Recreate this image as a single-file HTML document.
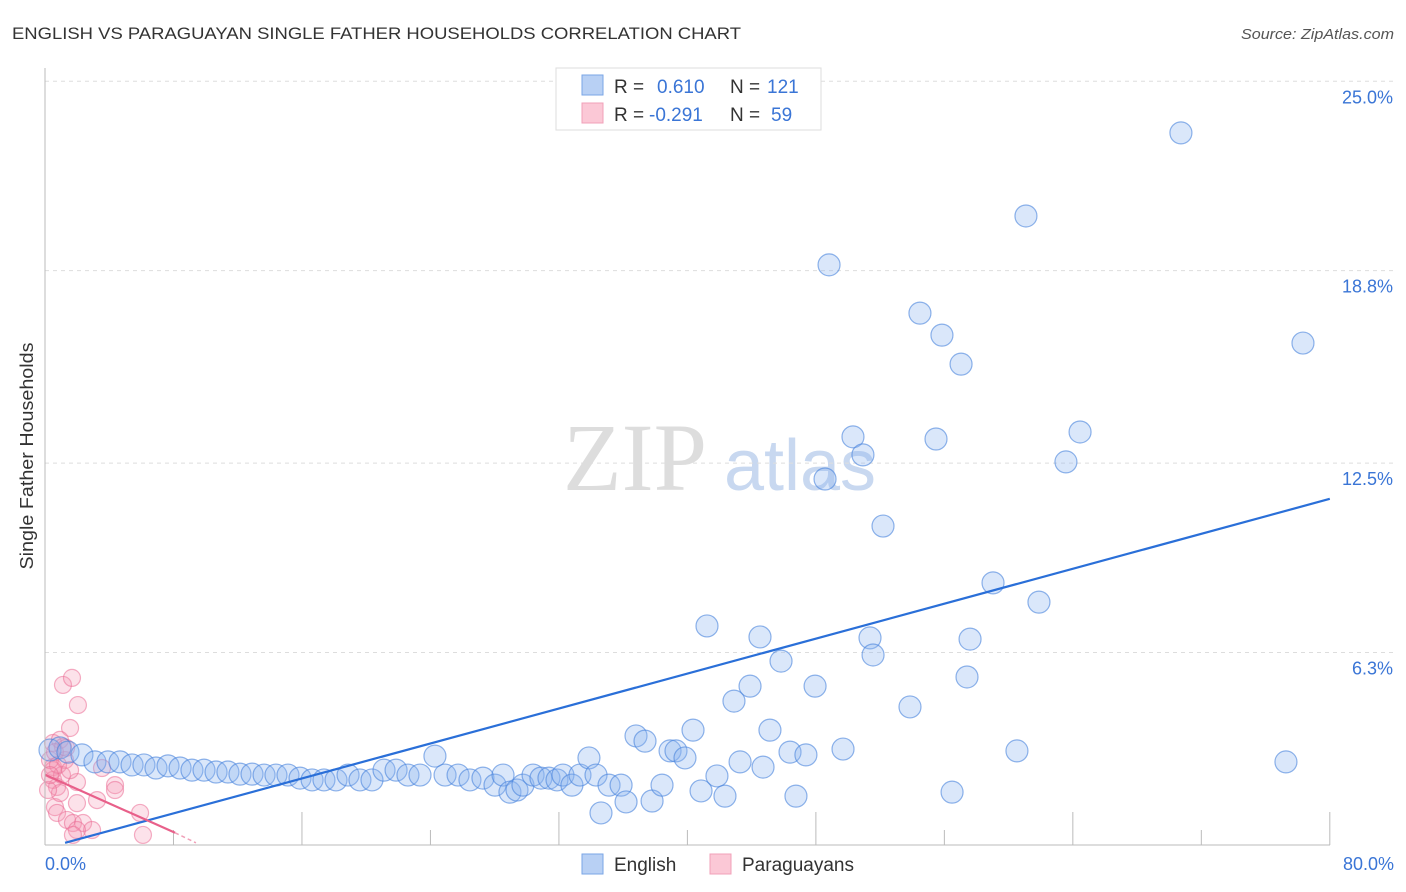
<!DOCTYPE html>
<html><head><meta charset="utf-8"><style>
body{margin:0;background:#fff;font-family:"Liberation Sans",sans-serif}
svg{display:block}
</style></head><body>
<svg width="1406" height="892" id="c">
<text x="12" y="39" font-size="17" fill="#333" textLength="729" lengthAdjust="spacingAndGlyphs">ENGLISH VS PARAGUAYAN SINGLE FATHER HOUSEHOLDS CORRELATION CHART</text>
<text x="1241" y="39" font-size="15" fill="#555" font-style="italic" textLength="153" lengthAdjust="spacingAndGlyphs">Source: ZipAtlas.com</text>
<text x="33" y="456" font-size="18" fill="#333" text-anchor="middle" textLength="227" lengthAdjust="spacingAndGlyphs" transform="rotate(-90 33 456)">Single Father Households</text>
<text x="635" y="490" font-size="96" fill="#ddd" font-family="Liberation Serif,serif" text-anchor="middle">ZIP</text>
<text x="800" y="490" font-size="72" fill="#c8d8f0" text-anchor="middle">atlas</text>
<g id="grid"></g><g id="pts"></g><g id="lines"></g>
<line x1="45" y1="68" x2="45" y2="845" stroke="#bbb"/>
<line x1="45" y1="845" x2="1330" y2="845" stroke="#bbb"/>
<text x="45" y="870" font-size="18" fill="#3a75d6">0.0%</text>
<text x="1394" y="870" font-size="18" fill="#3a75d6" text-anchor="end">80.0%</text>
<g>
<rect x="556" y="68" width="265" height="62" fill="#fff" stroke="#ddd"/>
<rect x="582" y="75" width="21" height="20" fill="#b8d0f4" stroke="#7aa6e6"/>
<rect x="582" y="103" width="21" height="20" fill="#fbc8d6" stroke="#f0a0b8"/>
<text y="93" font-size="19" fill="#333"><tspan x="614">R =</tspan><tspan x="657" fill="#3a75d6">0.610</tspan><tspan x="730">N =</tspan><tspan x="767" fill="#3a75d6">121</tspan></text>
<text y="121" font-size="19" fill="#333"><tspan x="614">R =</tspan><tspan x="649" fill="#3a75d6">-0.291</tspan><tspan x="730">N =</tspan><tspan x="771" fill="#3a75d6">59</tspan></text>
</g>
<g>
<rect x="582" y="854" width="21" height="20" fill="#b8d0f4" stroke="#7aa6e6"/>
<text x="614" y="871" font-size="19" fill="#333">English</text>
<rect x="710" y="854" width="21" height="20" fill="#fbc8d6" stroke="#f0a0b8"/>
<text x="742" y="871" font-size="19" fill="#333">Paraguayans</text>
</g>
</svg>
<script>
const yTicks=[6.3,12.5,18.8,25.0];
const xTicks=[8,16,24,32,40,48,56,64,72,80];
const englishPx=[[50,750],[60,748],[68,752],[82,755],[95,762],[108,762],[120,762],[132,765],[144,765],[156,768],[168,766],[180,768],[192,770],[204,770],[216,772],[228,772],[240,774],[252,774],[264,775],[276,775],[288,775],[300,778],[312,780],[324,780],[336,780],[348,775],[360,780],[372,780],[384,770],[396,770],[408,775],[420,775],[435,756],[445,775],[458,775],[470,780],[483,778],[495,785],[503,775],[510,792],[517,790],[523,785],[533,775],[541,778],[549,778],[557,780],[563,775],[572,785],[580,775],[589,758],[596,775],[601,813],[609,785],[621,785],[626,802],[636,736],[645,741],[652,801],[662,785],[670,751],[676,751],[685,758],[693,730],[701,791],[707,626],[717,776],[725,796],[734,701],[740,762],[750,686],[760,637],[763,767],[770,730],[781,661],[790,752],[796,796],[806,755],[815,686],[825,479],[829,265],[843,749],[853,437],[863,455],[870,638],[873,655],[883,526],[910,707],[920,313],[936,439],[942,335],[952,792],[961,364],[967,677],[970,639],[993,583],[1017,751],[1026,216],[1039,602],[1066,462],[1080,432],[1181,133],[1286,762],[1303,343]];
const paraPx=[[63,685],[72,678],[78,705],[70,728],[53,743],[60,740],[63,747],[53,767],[53,780],[57,787],[65,760],[77,782],[115,785],[115,790],[97,800],[77,803],[55,807],[57,813],[67,820],[73,823],[83,823],[92,830],[77,830],[73,835],[140,813],[143,835],[102,768],[60,793],[53,770],[50,760],[55,752],[62,775],[48,790],[58,765],[66,748],[50,775],[70,770]];
const englishX=englishPx.map(p=>+((p[0]-45)/16.06).toFixed(2));
const englishY=englishPx.map(p=>+((845-p[1])/30.55).toFixed(2));
const paraX=paraPx.map(p=>+((p[0]-45)/16.06).toFixed(2));
const paraY=paraPx.map(p=>+((845-p[1])/30.55).toFixed(2));
const blueTrend=[[1.25,0.07],[80,11.33]];
const pinkTrend=[[0,2.3],[8.1,0.4]];
const pinkTrendDash=[[8.1,0.4],[9.4,0.07]];
const X=v=>45+v*16.06, Y=v=>845-v*30.55;
const NS="http://www.w3.org/2000/svg";
function mk(t,a,parent){const e=document.createElementNS(NS,t);for(const k in a)e.setAttribute(k,a[k]);document.getElementById(parent).appendChild(e);return e;}
yTicks.forEach(t=>{
 const l=mk('line',{x1:45,x2:1394,y1:Y(t),y2:Y(t),stroke:'#ddd','stroke-dasharray':'4,4'},'grid');
 
 
 const tx=mk('text',{x:1393,y:Y(t)+22,'font-size':18,fill:'#3a75d6','text-anchor':'end'},'grid');
 tx.textContent=t.toFixed(1)+'%';
 
 
});
xTicks.forEach(t=>{
 const l=mk('line',{x1:X(t),x2:X(t),y1:t%16===0?812:830,y2:845,stroke:'#bbb'},'grid');
 
 
});
paraX.forEach((x,i)=>{
 const c=mk('circle',{cx:X(x),cy:Y(paraY[i]),r:8.5,fill:'rgba(245,150,180,0.28)',stroke:'rgba(235,110,150,0.55)','stroke-width':1.2},'pts');
 
 
});
englishX.forEach((x,i)=>{
 const c=mk('circle',{cx:X(x),cy:Y(englishY[i]),r:11,fill:'rgba(140,180,240,0.32)',stroke:'rgba(70,130,220,0.6)','stroke-width':1.2},'pts');
 
 
});
let l=mk('line',{x1:X(blueTrend[0][0]),y1:Y(blueTrend[0][1]),x2:X(blueTrend[1][0]),y2:Y(blueTrend[1][1]),stroke:'#2a6fd8','stroke-width':2.2},'lines');


l=mk('line',{x1:X(pinkTrend[0][0]),y1:Y(pinkTrend[0][1]),x2:X(pinkTrend[1][0]),y2:Y(pinkTrend[1][1]),stroke:'#e8608a','stroke-width':2.2},'lines');


l=mk('line',{x1:X(pinkTrendDash[0][0]),y1:Y(pinkTrendDash[0][1]),x2:X(pinkTrendDash[1][0]),y2:Y(pinkTrendDash[1][1]),stroke:'#f0a0b8','stroke-width':1.5,'stroke-dasharray':'4,3'},'lines');


</script>
</body></html>
